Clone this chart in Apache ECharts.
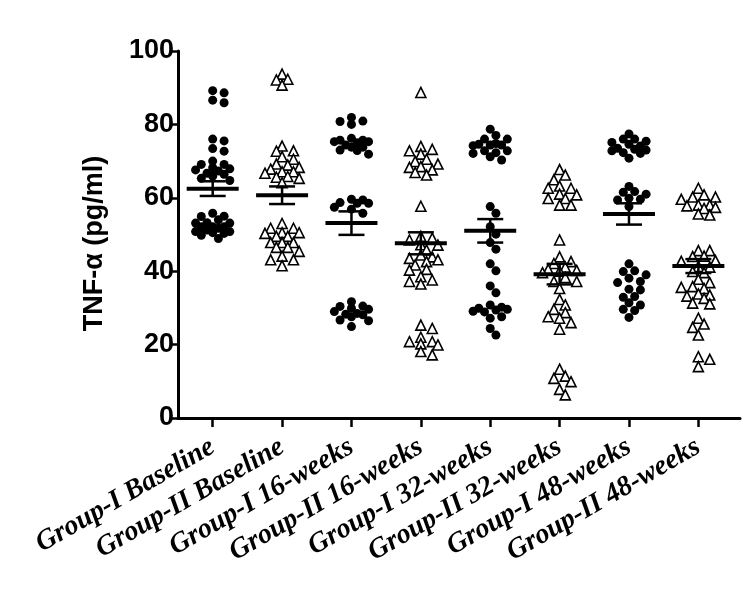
<!DOCTYPE html>
<html>
<head>
<meta charset="utf-8">
<script src="https://cdn.jsdelivr.net/npm/echarts@6.0.0/dist/echarts.min.js"></script>
<style>
  html, body { margin: 0; padding: 0; background: #fff; }
  #main { width: 750px; height: 604px; }
</style>
</head>
<body>
<div id="main"></div>
<script>
var categories = ['Group-I Baseline', 'Group-II Baseline', 'Group-I 16-weeks', 'Group-II 16-weeks',
    'Group-I 32-weeks', 'Group-II 32-weeks', 'Group-I 48-weeks', 'Group-II 48-weeks'];

// TNF-alpha values (pg/ml)
var g1Baseline = [89.2, 88.6, 86.6, 85.9, 76.0, 75.5, 73.4, 72.7, 70.0, 69.1, 69.1, 67.6, 67.9, 68.2, 67.3,
    66.7, 66.4, 65.3, 64.7, 65.9, 55.0, 55.8, 54.0, 53.1, 54.9, 53.2, 51.7, 50.8, 50.3, 50.8, 50.5, 52.1,
    52.1, 48.9, 53.1, 52.1, 49.8, 51.2];
var g2Baseline = [93.7, 92.1, 90.7, 92.3, 74.1, 72.8, 72.7, 71.2, 70.5, 69.2, 68.9, 68.3, 67.1, 67.8, 67.1,
    66.7, 65.6, 65.8, 65.3, 64.1, 53.0, 51.7, 51.7, 50.5, 49.5, 50.3, 49.5, 50.5, 47.8, 47.8, 47.8, 46.5,
    46.5, 45.4, 44.1, 43.1, 43.1, 41.5];
var g1Week16 = [80.8, 81.9, 80.0, 80.9, 75.3, 76.2, 75.7, 75.7, 75.3, 75.0, 73.8, 73.8, 74.4, 73.0, 72.9,
    71.9, 58.5, 59.4, 59.6, 58.7, 58.5, 56.9, 57.4, 55.8, 31.7, 30.4, 29.9, 29.6, 30.5, 28.3, 28.1, 28.5,
    26.7, 26.5, 24.9, 27.6, 29.0];
var g2Week16 = [88.7, 72.8, 73.2, 74.0, 71.9, 70.5, 69.9, 69.2, 68.5, 68.3, 67.6, 66.9, 66.2, 57.7, 49.0,
    49.5, 48.5, 47.1, 47.2, 45.8, 44.4, 43.9, 43.5, 43.1, 42.6, 41.7, 40.3, 40.5, 38.5, 37.2, 37.6, 36.5,
    25.3, 24.4, 22.0, 20.2, 20.8, 19.9, 20.8, 18.1, 17.2];
var g1Week32 = [78.7, 77.0, 76.0, 76.0, 74.4, 74.8, 74.6, 74.4, 74.2, 72.8, 72.1, 72.8, 72.3, 71.2, 70.3,
    57.6, 55.8, 52.1, 50.1, 47.8, 46.0, 42.0, 40.1, 36.0, 34.1, 29.9, 30.8, 29.4, 30.2, 29.6, 28.9, 29.1,
    27.6, 27.2, 24.4, 22.6];
var g2Week32 = [67.7, 66.2, 64.9, 63.2, 62.6, 62.6, 61.0, 60.8, 59.8, 59.8, 58.0, 58.0, 48.5, 43.9, 42.1,
    42.6, 41.1, 40.5, 40.0, 39.6, 40.2, 38.3, 37.2, 37.2, 35.3, 32.3, 30.8, 29.6, 28.7, 27.2, 27.6, 26.0,
    24.2, 13.3, 11.4, 10.8, 9.9, 7.8, 6.3];
var g1Week48 = [77.4, 76.0, 76.0, 75.4, 75.1, 74.6, 73.5, 73.2, 73.0, 72.8, 72.1, 72.3, 70.8, 74.1, 63.1,
    61.7, 61.5, 61.0, 59.4, 59.9, 59.6, 57.6, 42.0, 39.0, 40.1, 39.9, 36.9, 38.1, 37.2, 34.9, 35.1, 33.1,
    32.9, 31.4, 30.8, 29.6, 29.3, 27.4];
var g2Week48 = [62.6, 60.2, 59.6, 60.8, 60.2, 58.0, 57.4, 57.8, 58.0, 55.6, 55.3, 57.1, 45.6, 45.6, 44.0,
    44.1, 42.9, 42.7, 41.3, 41.1, 39.9, 39.6, 37.8, 36.9, 35.8, 35.3, 35.6, 33.8, 32.6, 33.5, 33.2, 31.3,
    31.1, 27.2, 24.7, 25.6, 22.6, 16.7, 16.0, 14.0];

// mean and SEM
var means = [62.5, 60.7, 53.1, 47.6, 51.0, 39.2, 55.6, 41.4];
var sems = [2.0, 2.4, 3.2, 3.0, 3.2, 2.8, 2.9, 1.9];

var groups = [g1Baseline, g2Baseline, g1Week16, g2Week16, g1Week32, g2Week32, g1Week48, g2Week48];

// plot geometry used for the beeswarm spread
var PLOT_W = 562, PLOT_H = 367, X_MIN = -0.5, X_MAX = 7.6;
var pxX = PLOT_W / (X_MAX - X_MIN), pxY = PLOT_H / 100;
var DIAM = 9, STEP = 5.7, MAX_K = 3;

// spread points sideways so they do not overlap too much (like a prism dot plot)
function swarm(vals, center) {
    var placed = [];
    var out = [];
    var sorted = vals.slice().sort(function (a, b) { return b - a; });
    sorted.forEach(function (v) {
        var py = v * pxY;
        var best = 0, bestD = -1;
        for (var n = 0; n <= MAX_K * 2; n++) {
            var k = n === 0 ? 0 : (n % 2 ? (n + 1) / 2 : -n / 2);
            var px = k * STEP;
            var d = Infinity;
            placed.forEach(function (p) {
                var dx = p[0] - px, dy = p[1] - py;
                d = Math.min(d, Math.sqrt(dx * dx + dy * dy));
            });
            if (d >= DIAM * 0.85) { best = px; bestD = d; break; }
            if (d > bestD) { bestD = d; best = px; }
        }
        placed.push([best, py]);
        out.push([center + best / pxX, v]);
    });
    return out;
}

var circleData = [], triangleData = [];
groups.forEach(function (g, i) {
    var pts = swarm(g, i);
    if (i % 2 === 0) circleData = circleData.concat(pts);
    else triangleData = triangleData.concat(pts);
});

var meanData = means.map(function (m, i) { return [i, m, sems[i]]; });

var chart = echarts.init(document.getElementById('main'));
chart.setOption({
    animation: false,
    grid: { left: 178, right: 10, top: 51, bottom: 186, outerBoundsMode: 'none' },
    xAxis: {
        type: 'value',
        min: X_MIN,
        max: X_MAX,
        axisLine: { onZero: false, lineStyle: { color: '#000', width: 3 } },
        axisTick: { customValues: [0, 1, 2, 3, 4, 5, 6, 7], length: 9, lineStyle: { color: '#000', width: 2.5 } },
        splitLine: { show: false },
        axisLabel: {
            customValues: [0, 1, 2, 3, 4, 5, 6, 7],
            formatter: function (v) { return categories[v]; },
            rotate: 30,
            margin: 27,
            color: '#000',
            fontFamily: 'Liberation Serif',
            fontWeight: 'bold',
            fontStyle: 'italic',
            fontSize: 28
        }
    },
    yAxis: {
        type: 'value',
        min: 0,
        max: 100,
        interval: 20,
        name: 'TNF-α (pg/ml)',
        nameLocation: 'middle',
        nameGap: 70,
        nameTextStyle: { color: '#000', fontFamily: 'Liberation Sans', fontWeight: 'bold', fontSize: 27,
            padding: [0, 18, 0, 0] },
        axisLine: { show: true, onZero: false, lineStyle: { color: '#000', width: 3 } },
        axisTick: { show: true, length: 8, lineStyle: { color: '#000', width: 2.5 } },
        splitLine: { show: false },
        axisLabel: { color: '#000', fontFamily: 'Liberation Sans', fontWeight: 'bold', fontSize: 27, margin: 4 }
    },
    series: [
        {
            type: 'scatter',
            symbol: 'circle',
            symbolSize: 9,
            itemStyle: { color: '#000', opacity: 1 },
            data: circleData
        },
        {
            type: 'scatter',
            symbol: 'triangle',
            symbolSize: 10,
            itemStyle: { color: '#fff', borderColor: '#000', borderWidth: 1.6, opacity: 1 },
            data: triangleData
        },
        {
            type: 'custom',
            z: 5,
            data: meanData,
            renderItem: function (params, api) {
                var c = api.coord([api.value(0), api.value(1)]);
                var top = api.coord([api.value(0), api.value(1) + api.value(2)]);
                var bot = api.coord([api.value(0), api.value(1) - api.value(2)]);
                var st = { stroke: '#000', lineWidth: 2.5 };
                return {
                    type: 'group',
                    children: [
                        { type: 'line', shape: { x1: c[0], y1: top[1], x2: c[0], y2: bot[1] }, style: st },
                        { type: 'line', shape: { x1: c[0] - 13, y1: top[1], x2: c[0] + 13, y2: top[1] }, style: st },
                        { type: 'line', shape: { x1: c[0] - 13, y1: bot[1], x2: c[0] + 13, y2: bot[1] }, style: st },
                        { type: 'line', shape: { x1: c[0] - 26, y1: c[1], x2: c[0] + 26, y2: c[1] },
                            style: { stroke: '#000', lineWidth: 4 } }
                    ]
                };
            }
        }
    ]
});
</script>
</body>
</html>
